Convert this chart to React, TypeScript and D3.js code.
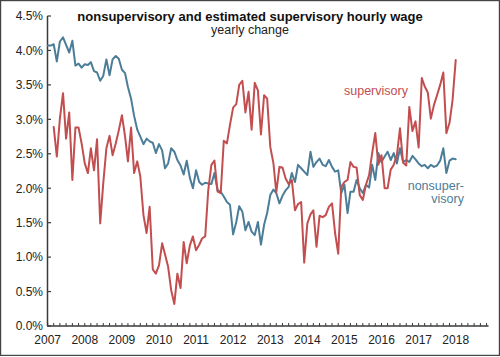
import React from "react";
import * as d3 from "d3";

const startYear = 2007;
const nonsupStartMonth = 0; // Jan 2007
const supStartMonth = 2; // Mar 2007

const nonsupervisory: number[] = [
  4.07, 4.07, 4.09, 3.84, 4.13, 4.19, 4.08, 3.97, 4.14, 3.78, 3.81, 3.75,
  3.80, 3.79, 3.83, 3.70, 3.68, 3.56, 3.63, 3.87, 3.64, 3.87, 3.92, 3.88,
  3.72, 3.67, 3.47, 3.30, 3.05, 2.85, 2.75, 2.64, 2.72, 2.68, 2.66, 2.51,
  2.64, 2.55, 2.29, 2.36, 2.58, 2.53, 2.41, 2.33, 2.20, 2.40, 2.15, 2.00,
  2.26, 2.09, 2.05, 2.08, 2.07, 2.06, 2.22, 1.97, 1.95, 1.88, 1.80, 1.76,
  1.33, 1.51, 1.74, 1.66, 1.39, 1.51, 1.37, 1.32, 1.51, 1.18, 1.47, 1.64,
  1.90, 1.98, 1.93, 1.78, 1.89, 1.97, 2.02, 2.22, 2.09, 2.34, 2.29, 2.24,
  2.19, 2.53, 2.31, 2.38, 2.43, 2.34, 2.32, 2.41, 2.31, 2.24, 2.26, 1.93,
  2.05, 1.64, 1.95, 1.95, 2.12, 2.00, 1.93, 2.05, 2.01, 2.34, 2.12, 2.51,
  2.38, 2.46, 2.53, 2.41, 2.51, 2.36, 2.58, 2.38, 2.41, 2.38, 2.47, 2.42,
  2.36, 2.32, 2.34, 2.29, 2.34, 2.31, 2.33, 2.40, 2.58, 2.22, 2.40, 2.43,
  2.42,
];

const supervisory: number[] = [
  2.89, 2.46, 3.01, 3.38, 2.72, 3.10, 2.12, 2.88, 2.88, 2.65,
  2.36, 2.22, 2.58, 2.26, 2.71, 1.49, 2.07, 2.58, 2.76, 2.48, 2.65, 2.84,
  3.06, 2.75, 2.39, 2.88, 2.22, 2.39, 2.17, 1.61, 1.35, 1.73, 0.82, 0.76,
  0.88, 1.20, 1.04, 0.86, 0.52, 0.32, 0.76, 0.55, 1.22, 0.91, 1.17, 1.30,
  1.10, 1.18, 1.27, 1.30, 1.97, 2.34, 2.40, 1.95, 1.93, 2.69, 2.65, 2.92,
  3.17, 3.22, 3.50, 3.56, 3.10, 3.40, 2.85, 3.53, 3.42, 2.78, 3.35, 3.30,
  2.60, 2.36, 1.94, 2.31, 2.30, 2.14, 2.06, 2.12, 1.68, 1.77, 1.80, 0.92,
  1.49, 1.62, 1.68, 1.15, 1.60, 1.58, 1.61, 1.73, 1.78, 1.35, 1.05, 2.02,
  2.09, 2.12, 2.38, 2.31, 2.30, 1.90, 1.83, 2.05, 2.19, 2.51, 2.80, 2.34,
  2.48, 2.00, 2.00, 2.27, 2.34, 2.48, 2.87, 2.37, 2.33, 3.18, 2.83, 2.97,
  2.59, 3.60, 3.48, 3.39, 3.01, 3.21, 3.35, 3.50, 3.68, 2.80, 2.95, 3.28,
  3.86,
];

const yTicks = [0, 0.5, 1, 1.5, 2, 2.5, 3, 3.5, 4, 4.5];
const yearLabels = [2007, 2008, 2009, 2010, 2011, 2012, 2013, 2014, 2015, 2016, 2017, 2018];

const titleText = "nonsupervisory and estimated supervisory hourly wage";
const subtitleText = "yearly change";

const RED = "#c24e4f";
const BLUE = "#4c7d98";
const AXIS = "#3a3a3a";
const FONT = "'Liberation Sans', Arial, Helvetica, sans-serif";

const W = 500;
const H = 357;

export default function App() {
  const x = d3
    .scaleTime()
    .domain([new Date(2007, 0, 1), new Date(2019, 0, 1)])
    .range([47.7, 47.7 + 12 * 37.09]);
  const y = d3.scaleLinear().domain([0, 4.5]).range([326, 16]);

  const toPts = (vals: number[], start: number) =>
    vals.map((v, i) => ({ d: new Date(startYear, start + i, 1), v }));

  const line = d3
    .line<{ d: Date; v: number }>()
    .x((p) => x(p.d))
    .y((p) => y(p.v));

  const bluePath = line(toPts(nonsupervisory, nonsupStartMonth)) || "";
  const redPath = line(toPts(supervisory, supStartMonth)) || "";

  const axisEnd = x(new Date(2018, 10, 20));
  const minorTicks: Date[] = [];
  for (let k = 0; k < 72; k++) {
    minorTicks.push(new Date(2007, k * 2, 1));
  }

  return (
    <div style={{ position: "absolute", left: 0, top: 0 }}>
      <svg width={W} height={H} style={{ display: "block" }} fontFamily={FONT}>
        <rect x={0} y={0} width={W} height={H} fill="#fff" />
        <rect x={0.6} y={0.6} width={W - 1.2} height={H - 2.2} fill="none" stroke="#444" strokeWidth={1.2} />

        <text x={250} y={20.5} textAnchor="middle" fontSize={13} fontWeight="bold" fill="#111">
          {titleText}
        </text>
        <text x={250} y={34} textAnchor="middle" fontSize={12.5} fill="#222">
          {subtitleText}
        </text>

        {/* y axis */}
        <line x1={47.5} x2={47.5} y1={y(4.5)} y2={y(0)} stroke={AXIS} strokeWidth={1.5} />
        {yTicks.map((t) => (
          <g key={t}>
            <line x1={47.5} x2={51} y1={y(t)} y2={y(t)} stroke={AXIS} strokeWidth={1.2} />
            <text x={43} y={y(t)} dy="0.36em" textAnchor="end" fontSize={12} fill="#222">
              {t.toFixed(1) + "%"}
            </text>
          </g>
        ))}

        {/* x axis */}
        <line x1={47} x2={axisEnd} y1={y(0)} y2={y(0)} stroke={AXIS} strokeWidth={1.5} />
        {minorTicks.map((d, i) => (
          <line key={i} x1={x(d)} x2={x(d)} y1={y(0)} y2={y(0) - 3} stroke={AXIS} strokeWidth={1} />
        ))}
        {yearLabels.map((yr) => (
          <text key={yr} x={x(new Date(yr, 0, 1))} y={343.5} textAnchor="middle" fontSize={12} fill="#222">
            {yr}
          </text>
        ))}

        <path d={bluePath} fill="none" stroke={BLUE} strokeWidth={2} strokeLinejoin="round" strokeLinecap="round" />
        <path d={redPath} fill="none" stroke={RED} strokeWidth={2} strokeLinejoin="round" strokeLinecap="round" />

        <text x={344} y={95} fontSize={12.5} fill={RED}>
          supervisory
        </text>
        <text x={464} y={190} textAnchor="end" fontSize={12.5} fill={BLUE}>
          nonsuper-
        </text>
        <text x={464} y={203} textAnchor="end" fontSize={12.5} fill={BLUE}>
          visory
        </text>
      </svg>
    </div>
  );
}
